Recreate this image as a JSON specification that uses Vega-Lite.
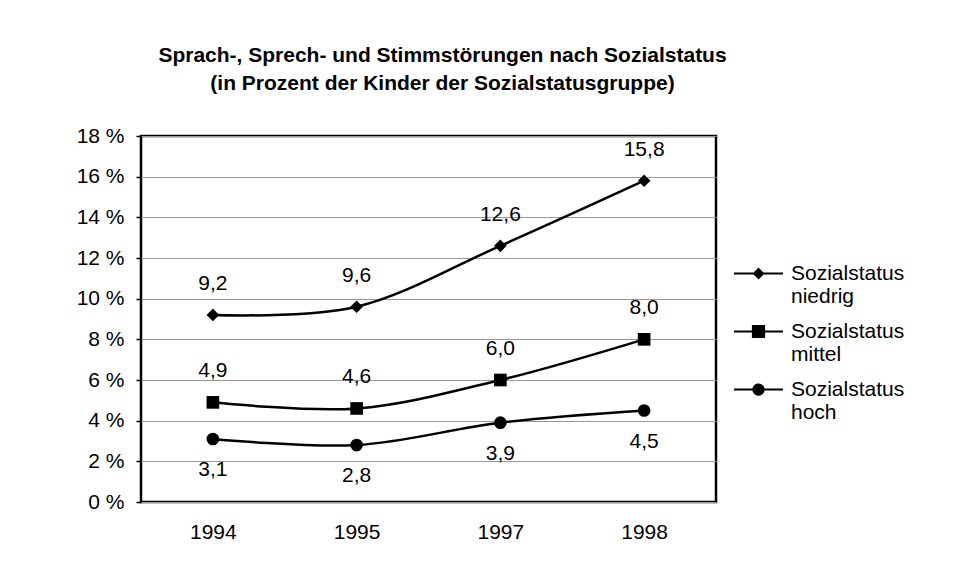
{
  "$schema": "https://vega.github.io/schema/vega-lite/v6.json",
  "autosize": "none",
  "width": 575,
  "height": 366,
  "padding": {"left": 141, "top": 136, "right": 263, "bottom": 71},
  "background": "white",
  "title": {
    "text": ["Sprach-, Sprech- und Stimmstörungen nach Sozialstatus", "(in Prozent der Kinder der Sozialstatusgruppe)"],
    "anchor": "middle",
    "dx": 14,
    "offset": 31,
    "lineHeight": 28,
    "font": "Liberation Sans",
    "fontSize": 21,
    "fontWeight": "bold",
    "color": "black"
  },
  "data": {
    "values": [
      {"year": "1994", "status": "Sozialstatus niedrig", "value": 9.2},
      {"year": "1995", "status": "Sozialstatus niedrig", "value": 9.6},
      {"year": "1997", "status": "Sozialstatus niedrig", "value": 12.6},
      {"year": "1998", "status": "Sozialstatus niedrig", "value": 15.8},
      {"year": "1994", "status": "Sozialstatus mittel", "value": 4.9},
      {"year": "1995", "status": "Sozialstatus mittel", "value": 4.6},
      {"year": "1997", "status": "Sozialstatus mittel", "value": 6.0},
      {"year": "1998", "status": "Sozialstatus mittel", "value": 8.0},
      {"year": "1994", "status": "Sozialstatus hoch", "value": 3.1},
      {"year": "1995", "status": "Sozialstatus hoch", "value": 2.8},
      {"year": "1997", "status": "Sozialstatus hoch", "value": 3.9},
      {"year": "1998", "status": "Sozialstatus hoch", "value": 4.5}
    ]
  },
  "encoding": {
    "x": {
      "field": "year",
      "type": "ordinal",
      "scale": {"type": "point", "padding": 0.5},
      "axis": {
        "title": null,
        "labelAngle": 0,
        "ticks": false,
        "domain": false,
        "grid": false,
        "labelPadding": 19,
        "labelFontSize": 21,
        "labelFont": "Liberation Sans",
        "labelColor": "black"
      }
    },
    "y": {
      "field": "value",
      "type": "quantitative",
      "scale": {"domain": [0, 18], "nice": false},
      "axis": {
        "title": null,
        "values": [0, 2, 4, 6, 8, 10, 12, 14, 16, 18],
        "labelExpr": "datum.value + ' %'",
        "domain": false,
        "tickSize": 5,
        "tickColor": "black",
        "tickWidth": 1.5,
        "labelPadding": 12,
        "labelFontSize": 21,
        "labelFont": "Liberation Sans",
        "labelColor": "black",
        "grid": true,
        "gridColor": "#999999",
        "gridWidth": 1
      }
    }
  },
  "layer": [
    {
      "mark": {"type": "line", "interpolate": "cardinal", "color": "black", "strokeWidth": 2.5},
      "encoding": {"detail": {"field": "status"}}
    },
    {
      "mark": {"type": "point", "filled": true, "color": "black", "opacity": 1, "size": 160},
      "encoding": {
        "shape": {
          "field": "status",
          "type": "nominal",
          "scale": {
            "domain": ["Sozialstatus niedrig", "Sozialstatus mittel", "Sozialstatus hoch"],
            "range": ["diamond", "square", "circle"]
          },
          "legend": null
        }
      }
    },
    {
      "mark": {"type": "point", "filled": true, "color": "black", "opacity": 0, "size": 2401},
      "encoding": {
        "shape": {
          "field": "status",
          "type": "nominal",
          "scale": {
            "domain": ["Sozialstatus niedrig", "Sozialstatus mittel", "Sozialstatus hoch"],
            "range": [
              "M-1,-0.045H1V0.045H-1ZM-0.24,0L0,-0.24L0.24,0L0,0.24Z",
              "M-1,-0.045H1V0.045H-1ZM-0.27,-0.27H0.27V0.27H-0.27Z",
              "M-1,-0.045H1V0.045H-1ZM-0.25,0A0.25,0.25 0 1,1 0.25,0A0.25,0.25 0 1,1 -0.25,0Z"
            ]
          },
          "legend": {
            "title": null,
            "orient": "none",
            "legendX": 593,
            "legendY": 113,
            "padding": 0,
            "symbolSize": 2401,
            "symbolOpacity": 1,
            "symbolFillColor": "black",
            "symbolStrokeWidth": 0,
            "labelOffset": 8,
            "labelFont": "Liberation Sans",
            "labelFontSize": 21,
            "labelColor": "black",
            "labelLimit": 300,
            "labelBaseline": "middle",
            "labelExpr": "split(datum.label, ' ')",
            "rowPadding": -1,
            "encode": {
              "labels": {
                "update": {
                  "dy": {"value": 12},
                  "lineHeight": {"value": 24}
                }
              }
            }
          }
        }
      }
    },
    {
      "transform": [{"filter": "datum.status !== 'Sozialstatus hoch'"}],
      "mark": {"type": "text", "dy": -31, "baseline": "middle", "font": "Liberation Sans", "fontSize": 21, "color": "black"},
      "encoding": {"text": {"field": "value", "type": "quantitative", "format": ".1f"}}
    },
    {
      "transform": [{"filter": "datum.status === 'Sozialstatus hoch'"}],
      "mark": {"type": "text", "dy": 31, "baseline": "middle", "font": "Liberation Sans", "fontSize": 21, "color": "black"},
      "encoding": {"text": {"field": "value", "type": "quantitative", "format": ".1f"}}
    }
  ],
  "resolve": {"scale": {"shape": "independent"}, "legend": {"shape": "independent"}},
  "config": {
    "locale": {"number": {"decimal": ",", "thousands": ".", "grouping": [3], "currency": ["", " €"]}},
    "view": {"stroke": "black", "strokeWidth": 2.5}
  }
}
